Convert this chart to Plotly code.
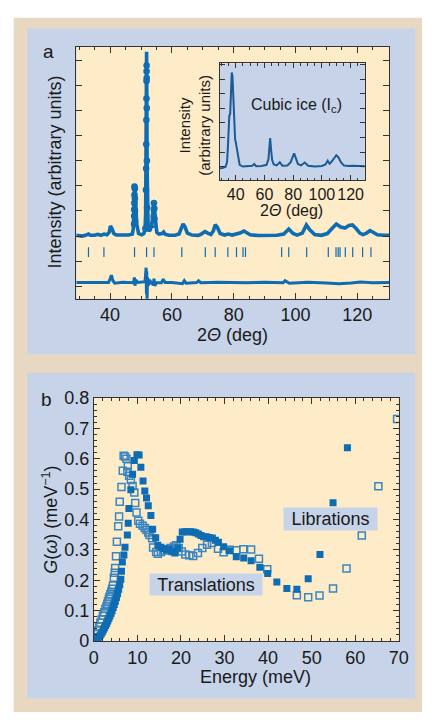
import plotly.graph_objects as go

W, H = 432, 722

# ---------------- Panel a: powder diffraction (main) ----------------
tth_profile = [29, 30, 31, 32, 33, 33.6, 35, 36, 37, 38, 39, 39.7, 40.1, 40.6, 41.2, 42, 44, 46, 47.2,
               47.5, 47.7, 47.9, 48.1, 48.3, 48.6, 49.2, 50.2, 50.9, 51.3, 51.5, 51.62, 51.72, 51.8,
               51.88, 51.98, 52.1, 52.3, 52.6, 53.0, 53.5, 53.8, 54.0, 54.2, 54.4, 54.7, 55.1, 55.8,
               56.8, 57.3, 57.8, 59, 61, 62.3, 63.1, 63.6, 64.2, 65, 66.5, 68.5, 69.5, 70.7, 71.6,
               72.6, 73.4, 74.0, 74.7, 75.6, 77, 78.2, 79.5, 80.8, 82, 83.3, 84.2, 85.3, 88, 91, 94,
               96.2, 97.8, 99.2, 100.5, 102.2, 103.5, 104.6, 106.2, 108.3, 110.3, 111.8, 113.2, 114.6,
               116.0, 117.3, 118.4, 119.6, 120.8, 121.8, 123.0, 124.1, 125.2, 126.5, 128.5, 130.5]
int_profile = [2.03, 2.02, 2.0, 2.03, 2.08, 2.03, 2.03, 2.07, 2.03, 2.08, 2.05, 2.15, 2.4, 2.3, 2.1, 2.04,
               2.03, 2.04, 2.08, 2.3, 3.0, 4.05, 4.0, 3.3, 2.5, 2.1, 2.05, 2.1, 2.25, 2.9, 4.6, 7.4, 9.35,
               7.4, 4.6, 2.9, 2.35, 2.2, 2.25, 2.45, 2.9, 3.35, 3.38, 3.0, 2.45, 2.15, 2.08, 2.1, 2.16,
               2.07, 2.03, 2.03, 2.08, 2.3, 2.48, 2.38, 2.12, 2.04, 2.03, 2.08, 2.18, 2.12, 2.06, 2.2,
               2.45, 2.35, 2.1, 2.04, 2.08, 2.04, 2.08, 2.12, 2.2, 2.15, 2.05, 2.02, 2.02, 2.03, 2.08,
               2.28, 2.1, 2.04, 2.12, 2.44, 2.25, 2.06, 2.03, 2.1, 2.3, 2.48, 2.36, 2.32, 2.42, 2.44,
               2.3, 2.12, 2.06, 2.12, 2.22, 2.14, 2.05, 2.03, 2.03]

# observed points visible as open circles on the strong peaks
tth_obs_pts = [47.75, 47.78, 47.8, 47.83, 47.86, 47.88, 48.0, 48.02, 48.05, 48.08,
               51.6, 51.65, 51.7, 51.73, 51.76, 51.78, 51.8, 51.82, 51.84, 51.86, 51.9, 51.95,
               54.1, 54.13, 54.15, 54.18, 54.3, 54.33, 53.9, 52.3, 51.4]
int_obs_pts = [2.48, 2.8, 3.06, 3.32, 3.64, 3.97, 3.9, 3.5, 3.0, 2.6,
               3.84, 4.69, 5.66, 6.63, 7.48, 8.18, 8.57, 8.8, 8.3, 7.1, 5.0, 3.14,
               2.48, 2.8, 3.06, 3.32, 3.1, 2.7, 2.45, 2.3, 2.3]

reflections = [33.0, 38.0, 47.9, 51.8, 54.2, 63.2, 70.8, 74.0, 78.1, 80.9, 83.0, 83.8, 95.5, 97.8,
               103.6, 110.6, 113.1, 113.8, 114.4, 116.1, 118.5, 121.7, 124.4]
reflection_level = 1.36

tth_diff = [29, 33, 36, 39.5, 40.0, 40.4, 40.9, 41.5, 44, 47.6, 47.85, 48.05, 48.3, 49, 51.3, 51.55,
            51.65, 51.75, 51.85, 51.95, 52.1, 52.4, 53, 54.0, 54.2, 54.45, 55, 56.6, 57.2, 57.8, 60,
            63.4, 64.0, 64.6, 68.0, 68.6, 69.3, 75, 84, 90, 96.0, 96.6, 98, 104, 110, 114, 118, 121,
            125, 130.5]
int_diff = [0.15, 0.16, 0.17, 0.15, 0.3, 0.44, 0.22, 0.12, 0.16, 0.14, 0.35, 0.02, 0.25, 0.15, 0.18, 0.45,
            0.74, -0.3, 0.6, -0.62, 0.35, 0.05, 0.2, 0.05, 0.3, 0.02, 0.15, 0.14, 0.28, 0.15, 0.15,
            0.1, 0.22, 0.12, 0.15, 0.22, 0.14, 0.16, 0.14, 0.16, 0.14, 0.22, 0.12, 0.16, 0.13, 0.1,
            0.13, 0.17, 0.14, 0.15]

a_xticks = [40, 60, 80, 100, 120]

# ---------------- Panel a inset: cubic ice ----------------
tth_ic = [29, 31, 33, 34, 34.6, 35.1, 35.6, 36.2, 36.8, 37.3, 37.8, 38.4, 39.0, 39.6, 40.2, 41.0,
          42.0, 42.8, 45, 49, 51.5, 52.9, 54.3, 58, 61.5, 62.8, 63.5, 64.0, 64.6, 65.4, 66.5, 68.5,
          70.7, 72.5, 76, 78.3, 79.8, 80.7, 81.8, 83.3, 85.5, 88.0, 90.5, 95, 100, 102.5, 104.0,
          105.3, 106.8, 108.5, 110.0, 111.6, 113.2, 115.2, 118, 122, 126, 130]
int_ic = [-0.11, -0.1, -0.02, 0.3, 1.3, 3.3, 3.5, 3.6, 4.8, 6.45, 6.2, 4.4, 2.5, 1.9, 1.62, 1.2,
          0.5, 0.12, 0.0, 0.02, 0.05, 0.18, 0.03, 0.04, 0.12, 0.5, 1.3, 1.95, 1.2, 0.45, 0.15, 0.08,
          0.3, 0.06, 0.08, 0.3, 0.7, 0.91, 0.6, 0.18, 0.08, 0.28, 0.06, 0.0, 0.04, 0.15, 0.4,
          0.2, 0.35, 0.55, 0.78, 0.62, 0.3, 0.08, 0.04, 0.06, 0.03, 0.02]
inset_xticks = [40, 60, 80, 100, 120]

# ---------------- Panel b: density of states ----------------
energy_filled = [0.2, 0.45, 0.7, 0.95, 1.2, 1.45, 1.7, 1.95, 2.2, 2.45, 2.7, 2.95, 3.2, 3.45, 3.7,
                 3.95, 4.2, 4.45, 4.7, 4.95, 5.2, 5.45, 5.7, 5.95, 6.2, 6.35, 6.55, 6.9, 7.15, 7.7,
                 7.9, 8.05, 8.5, 8.9, 9.3, 9.9, 10.4, 10.8, 11.3, 11.7, 12.1, 12.5, 13.1, 13.5,
                 14.2, 14.7, 15.4, 16.0, 16.7, 17.3, 17.9, 18.6, 19.3, 19.8, 20.3, 20.9, 21.6,
                 22.2, 22.8, 23.4, 24.0, 24.6, 25.2, 25.8, 26.5, 27.2, 27.9, 28.6, 29.8, 31.1,
                 32.7, 34.4, 36.1, 38.1, 39.9, 42.0, 44.3, 46.6, 49.2, 51.9, 54.9, 58.2]
g_filled = [0.001, 0.003, 0.006, 0.01, 0.014, 0.019, 0.024, 0.03, 0.037, 0.044, 0.051, 0.058, 0.066,
            0.074, 0.082, 0.091, 0.1, 0.11, 0.12, 0.131, 0.143, 0.156, 0.17, 0.185, 0.203, 0.23,
            0.26, 0.283, 0.309, 0.349, 0.388, 0.436, 0.498, 0.549, 0.594, 0.613, 0.612, 0.572,
            0.527, 0.494, 0.471, 0.445, 0.413, 0.368, 0.34, 0.315, 0.309, 0.304, 0.3, 0.303,
            0.294, 0.29, 0.306, 0.335, 0.359, 0.36, 0.36, 0.36, 0.359, 0.356, 0.352, 0.347,
            0.343, 0.343, 0.341, 0.339, 0.332, 0.325, 0.31, 0.297, 0.277, 0.273, 0.264, 0.243,
            0.222, 0.194, 0.173, 0.17, 0.205, 0.285, 0.455, 0.636]

energy_open = [0.15, 0.4, 0.66, 0.9, 1.2, 1.5, 1.8, 2.1, 2.4, 2.65, 2.9, 3.1, 3.25, 3.45, 3.6, 3.8,
               4.0, 4.2, 4.4, 4.6, 4.8, 4.9, 5.1, 5.3, 5.6, 5.8, 5.95, 6.35, 6.65, 6.85, 7.15, 7.5,
               7.7, 7.8, 8.1, 8.5, 8.9, 9.3, 9.5, 9.8, 10.2, 10.6, 11.2, 11.7, 12.1, 12.5, 12.8,
               13.4, 13.6, 14.3, 14.7, 15.4, 16.2, 16.9, 17.6, 18.4, 18.9, 19.5, 20.2, 21.0, 21.9,
               22.8, 23.9, 24.9, 26.0, 27.1, 28.5, 29.8, 31.2, 32.7, 34.3, 36.1, 37.9, 39.8, 46.6,
               49.2, 51.8, 54.9, 58.0, 61.5, 65.3, 69.6]
g_open = [0.005, 0.012, 0.023, 0.035, 0.048, 0.06, 0.071, 0.083, 0.095, 0.105, 0.114, 0.122, 0.13,
          0.138, 0.146, 0.154, 0.162, 0.172, 0.183, 0.208, 0.225, 0.24, 0.279, 0.327, 0.378, 0.41,
          0.458, 0.507, 0.56, 0.61, 0.607, 0.6, 0.557, 0.575, 0.544, 0.53, 0.51, 0.489, 0.454,
          0.423, 0.396, 0.386, 0.379, 0.372, 0.365, 0.357, 0.349, 0.338, 0.308, 0.293, 0.287,
          0.293, 0.298, 0.3, 0.306, 0.311, 0.315, 0.306, 0.295, 0.285, 0.282, 0.28, 0.29, 0.306,
          0.317, 0.323, 0.304, 0.292, 0.3, 0.299, 0.302, 0.301, 0.271, 0.236, 0.151, 0.144, 0.15,
          0.173, 0.239, 0.347, 0.509, 0.731]

b_xticks = [0, 10, 20, 30, 40, 50, 60, 70]
b_yticks = [0, 0.1, 0.2, 0.3, 0.4, 0.5, 0.6, 0.7, 0.8]
b_yticklabels = ["0", "0.1", "0.2", "0.3", "0.4", "0.5", "0.6", "0.7", "0.8"]

# ---------------- styling ----------------
FONT = "Liberation Sans, Arial, Helvetica, sans-serif"
INK = "#1a1a1a"
AXC = "#333333"
TAN = "#e8d8c2"
BLUE_BG = "#c6d3e9"
CREAM = "#feebc8"
DATA = "#0e6cb2"
DATA_OPEN = "#3a86c2"
INSET = "#1a5a95"


def px(x):
    return x / W


def py(y):
    return 1 - y / H


fig = go.Figure()

# panel a traces
fig.add_trace(go.Scatter(x=tth_profile, y=int_profile, mode="lines",
                         line=dict(color=DATA, width=3.6), xaxis="x", yaxis="y",
                         hoverinfo="skip", showlegend=False))
fig.add_trace(go.Scatter(x=tth_obs_pts, y=int_obs_pts, mode="markers",
                         marker=dict(symbol="circle-open", size=5, color=DATA, line=dict(width=1.6)),
                         xaxis="x", yaxis="y", showlegend=False))
fig.add_trace(go.Scatter(x=reflections, y=[reflection_level] * len(reflections), mode="markers",
                         marker=dict(symbol="line-ns", size=7, color=DATA, line=dict(width=1.2, color=DATA)),
                         xaxis="x", yaxis="y", showlegend=False))
fig.add_trace(go.Scatter(x=tth_diff, y=int_diff, mode="lines",
                         line=dict(color=DATA, width=3), xaxis="x", yaxis="y",
                         showlegend=False))

# inset
fig.add_trace(go.Scatter(x=tth_ic, y=int_ic, mode="lines", line=dict(color=INSET, width=2),
                         xaxis="x2", yaxis="y2", showlegend=False))

# panel b
fig.add_trace(go.Scatter(x=energy_open, y=g_open, mode="markers",
                         marker=dict(symbol="square-open", size=7, color=DATA_OPEN,
                                     line=dict(width=1.5, color=DATA_OPEN)),
                         xaxis="x3", yaxis="y3", showlegend=False))
fig.add_trace(go.Scatter(x=energy_filled, y=g_filled, mode="markers",
                         marker=dict(symbol="square", size=7, color=DATA, line=dict(width=0)),
                         xaxis="x3", yaxis="y3", showlegend=False))

common = dict(showline=True, linecolor=AXC, linewidth=1, mirror="ticks", ticks="inside",
              tickcolor=AXC, showgrid=False, zeroline=False, tickangle=0,
              tickfont=dict(family=FONT, size=18, color=INK))

fig.update_layout(
    width=W, height=H, margin=dict(l=0, r=0, t=0, b=0),
    paper_bgcolor="white", plot_bgcolor="rgba(0,0,0,0)",
    font=dict(family=FONT, color=INK),
    xaxis=dict(domain=[px(74), px(398)], anchor="y", range=[29.1, 130.3],
               tickvals=a_xticks, ticklen=6,
               minor=dict(dtick=5, tick0=0, ticks="inside", ticklen=3, tickcolor=AXC),
               **common),
    yaxis=dict(domain=[py(297), py(38)], anchor="x", range=[-0.5, 9.54], dtick=1, tick0=0,
               showticklabels=False, ticklen=6, **common),
    xaxis2=dict(domain=[px(222.7), px(372.7)], anchor="y2", range=[29.1, 129.8],
                tickvals=inset_xticks, ticklen=5,
                minor=dict(dtick=5, tick0=0, ticks="inside", ticklen=2.5, tickcolor=AXC),
                **{**common, "tickfont": dict(family=FONT, size=16, color=INK)}),
    yaxis2=dict(domain=[py(175), py(55)], anchor="x2", range=[-0.93, 7.07], dtick=1, tick0=0,
                showticklabels=False, ticklen=5, **common),
    xaxis3=dict(domain=[px(92), px(408)], anchor="y3", range=[0, 70], tickvals=b_xticks,
                ticklen=6,
                minor=dict(dtick=2, tick0=0, ticks="inside", ticklen=3, tickcolor=AXC),
                **common),
    yaxis3=dict(domain=[py(649), py(399)], anchor="x3", range=[0, 0.8], tickvals=b_yticks,
                ticktext=b_yticklabels, ticklen=6,
                minor=dict(dtick=0.02, tick0=0, ticks="inside", ticklen=3, tickcolor=AXC),
                **common),
)

shapes = [
    dict(type="rect", xref="paper", yref="paper", x0=px(9), x1=1, y0=0, y1=py(8),
         fillcolor=TAN, line=dict(width=0), layer="below"),
    dict(type="rect", xref="paper", yref="paper", x0=px(23), x1=px(425), y0=py(354), y1=py(19),
         fillcolor=BLUE_BG, line=dict(width=0), layer="below"),
    dict(type="rect", xref="paper", yref="paper", x0=px(23), x1=px(425), y0=py(708), y1=py(373),
         fillcolor=BLUE_BG, line=dict(width=0), layer="below"),
    dict(type="rect", xref="paper", yref="paper", x0=px(74), x1=px(398), y0=py(297), y1=py(38),
         fillcolor=CREAM, line=dict(width=0), layer="below"),
    dict(type="rect", xref="paper", yref="paper", x0=px(92), x1=px(408), y0=py(649), y1=py(399),
         fillcolor=CREAM, line=dict(width=0), layer="below"),
    dict(type="rect", xref="paper", yref="paper", x0=px(222.7), x1=px(372.7), y0=py(175), y1=py(55),
         fillcolor=BLUE_BG, line=dict(width=0), layer="below"),
]
fig.update_layout(shapes=shapes)


def ann(text, x, y, size=18, angle=0, **kw):
    d = dict(text=text, x=px(x), y=py(y), xref="paper", yref="paper", showarrow=False,
             xanchor="center", yanchor="middle", textangle=angle,
             font=dict(family=FONT, size=size, color=INK))
    d.update(kw)
    return d


annotations = [
    ann("a", 45, 43, size=19),
    ann("b", 43, 401, size=19),
    ann("Intensity (arbitrary units)", 52, 167, size=18, angle=-90),
    ann("2<i>Θ</i> (deg)", 236, 334, size=18),
    ann("Intensity<br>(arbitrary units)", 197, 119, size=15, angle=-90),
    ann("2<i>Θ</i> (deg)", 297, 206, size=16),
    ann("Cubic ice (I<sub>c</sub>)", 302, 98, size=16),
    ann("<i>G</i>(<i>ω</i>) (meV<sup>−1</sup>)", 47, 524, size=18, angle=-90),
    ann("Energy (meV)", 259, 686, size=18),
    ann("Librations", 337.5, 523, size=18, bgcolor=BLUE_BG, borderpad=2, width=89, height=18),
    ann("Translations", 208, 591, size=18, bgcolor=BLUE_BG, borderpad=2, width=108, height=17),
]
fig.update_layout(annotations=annotations)

fig.write_html("out.html", config={"displayModeBar": False},
               post_script="document.body.style.margin='0';document.body.style.overflow='hidden';")
